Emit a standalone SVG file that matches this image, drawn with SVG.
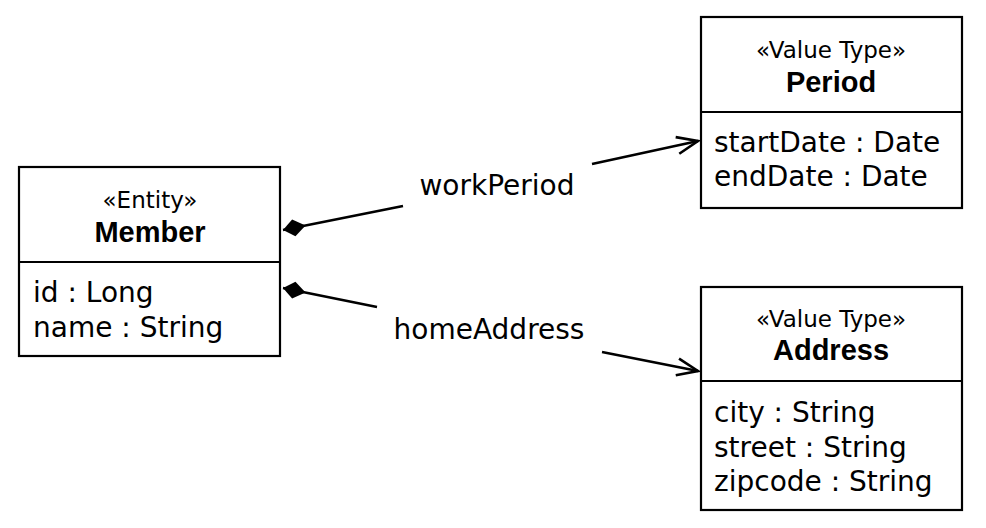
<svg xmlns="http://www.w3.org/2000/svg" width="986" height="528" viewBox="0 0 986 528">
<style>
.box{fill:#fff;stroke:#000;stroke-width:2.2}
.st{font-family:"DejaVu Sans",sans-serif;font-size:23px;text-anchor:middle;fill:#000}
.nm{font-family:"Liberation Sans",Arial,sans-serif;font-weight:bold;font-size:29px;text-anchor:middle;fill:#000}
.at{font-family:"DejaVu Sans",sans-serif;font-size:28px;fill:#000}
.lb{font-family:"DejaVu Sans",sans-serif;font-size:28px;text-anchor:middle;fill:#000}
.cn{stroke:#000;stroke-width:2.6;fill:none}
</style>
<defs>
<marker id="dia" viewBox="-1 -10 28 20" refX="0" refY="0" markerWidth="28" markerHeight="20" markerUnits="userSpaceOnUse" orient="auto">
<path d="M0,0 L11,-8.5 L23,0 L11,8.5 Z" fill="#000"/>
</marker>
<marker id="arr" viewBox="-24 -11 26 22" refX="0" refY="0" markerWidth="26" markerHeight="22" markerUnits="userSpaceOnUse" orient="auto">
<path d="M-21,-8.5 L0,0 L-21,8.5" fill="none" stroke="#000" stroke-width="2.6"/>
</marker>
</defs>
<rect width="986" height="528" fill="#fff"/>
<g id="member">
<rect class="box" x="19" y="167" width="261" height="189"/>
<line class="box" x1="19" y1="262" x2="280" y2="262"/>
<text class="st" x="150" y="208">«Entity»</text>
<text class="nm" x="150" y="242">Member</text>
<text class="at" x="33" y="302">id : Long</text>
<text class="at" x="33" y="337">name : String</text>
</g>
<g id="period">
<rect class="box" x="701" y="17" width="261" height="191"/>
<line class="box" x1="701" y1="112" x2="962" y2="112"/>
<text class="st" x="831" y="58">«Value Type»</text>
<text class="nm" x="831" y="92">Period</text>
<text class="at" x="714" y="152">startDate : Date</text>
<text class="at" x="714" y="186">endDate : Date</text>
</g>
<g id="address">
<rect class="box" x="701" y="287" width="261" height="223"/>
<line class="box" x1="701" y1="381" x2="962" y2="381"/>
<text class="st" x="831" y="327">«Value Type»</text>
<text class="nm" x="831" y="360">Address</text>
<text class="at" x="714" y="422">city : String</text>
<text class="at" x="714" y="457">street : String</text>
<text class="at" x="714" y="491">zipcode : String</text>
</g>
<g id="connectors">
<line class="cn" x1="283" y1="230" x2="403" y2="206" marker-start="url(#dia)"/>
<line class="cn" x1="592" y1="164" x2="698" y2="141" marker-end="url(#arr)"/>
<text class="lb" x="497" y="195">workPeriod</text>
<line class="cn" x1="283" y1="288" x2="377" y2="307" marker-start="url(#dia)"/>
<line class="cn" x1="602" y1="352" x2="698" y2="371" marker-end="url(#arr)"/>
<text class="lb" x="489" y="339">homeAddress</text>
</g>
</svg>
